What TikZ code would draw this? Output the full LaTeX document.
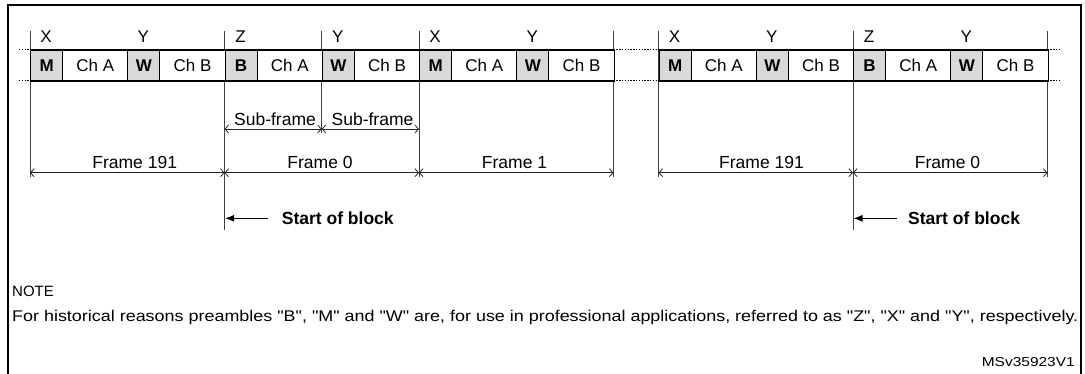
\documentclass[tikz,border=0pt]{standalone}
\usepackage{fontspec}
\setmainfont{Liberation Sans}
\newfontfamily\notefont{Liberation Sans}
\usetikzlibrary{arrows.meta}
\newcommand{\fsz}{\fontsize{17}{20}\selectfont}
\newcommand{\lsz}{\fontsize{17.5}{20}\selectfont}
\begin{document}
\begin{tikzpicture}[x=1pt,y=-1pt,
  cellbox/.style={draw, line width=1.2pt, inner sep=0pt, minimum height=31pt, anchor=west, font=\fsz},
  precell/.style={cellbox, fill=gray!30, minimum width=32pt, font=\fsz\bfseries},
  chcell/.style={cellbox, fill=white, minimum width=65.25pt},
  toplabel/.style={anchor=base, font=\fsz, inner sep=0pt},
  vline/.style={draw=black!75, line width=0.9pt},
  dimarrow/.style={draw=black!85, line width=0.8pt, {Straight Barb[length=3.5pt,width=8pt]}-{Straight Barb[length=3.5pt,width=8pt]}},
  dimlabel/.style={anchor=base, font=\lsz, inner sep=0pt},
  dotline/.style={draw, line width=1pt, dash pattern=on 1.4pt off 1.4pt},
  startarrow/.style={draw, line width=1.2pt, -{Latex[length=9pt,width=7pt]}},
  startlabel/.style={anchor=base west, font=\lsz\bfseries, inner sep=0pt}
]
\useasboundingbox (0,0) rectangle (1085,374);
% outer frame
\draw[line width=2pt] (8,374) -- (8,5) -- (1081,5) -- (1081,374);

% vertical guide lines (drawn first, behind the cells)
\foreach \x/\yb/\n in {30/177/1, 224.5/230/2, 321.75/133/3, 419/177/4, 613.5/177/5, 658.5/177/6, 853/230/7, 1047.5/177/8} {
  \coordinate (vt\n) at (\x,31);
  \coordinate (vb\n) at (\x,\yb);
  \draw[vline] (vt\n) -- (vb\n);
}

% dotted continuation lines
\coordinate (dl1) at (19,50);  \coordinate (dl2) at (30,50);
\coordinate (dl3) at (19,81);  \coordinate (dl4) at (30,81);
\coordinate (dm1) at (613.5,50); \coordinate (dm2) at (658.5,50);
\coordinate (dm3) at (613.5,81); \coordinate (dm4) at (658.5,81);
\coordinate (dr1) at (1047.5,50); \coordinate (dr2) at (1061,50);
\coordinate (dr3) at (1047.5,81); \coordinate (dr4) at (1061,81);
\draw[dotline] (dl1) -- (dl2);
\draw[dotline] (dl3) -- (dl4);
\draw[dotline] (dm1) -- (dm2);
\draw[dotline] (dm3) -- (dm4);
\draw[dotline] (dr1) -- (dr2);
\draw[dotline] (dr3) -- (dr4);

% frames
\foreach \s/\k/\f/\t in {30/1/M/X, 224.5/2/B/Z, 419/3/M/X, 658.5/4/M/X, 853/5/B/Z} {
  \node[precell] (p\k) at (\s,65.5) {\f};
  \node[chcell]  (a\k) at (\s+32,65.5) {Ch A};
  \node[precell] (w\k) at (\s+97.25,65.5) {W};
  \node[chcell]  (b\k) at (\s+129.25,65.5) {Ch B};
  \node[toplabel] (lx\k) at (\s+16,43) {\t};
  \node[toplabel] (ly\k) at (\s+113.25,43) {Y};
}

% sub-frame dimensions
\coordinate (s1) at (224.5,129);
\coordinate (s2) at (321.75,129);
\coordinate (s3) at (419,129);
\draw[dimarrow] (s1) -- (s2);
\draw[dimarrow] (s2) -- (s3);
\node[dimlabel] (sl1) at (275,125.6) {Sub-frame};
\node[dimlabel] (sl2) at (372.5,125.6) {Sub-frame};

% frame dimensions
\coordinate (f1) at (30,172.7);
\coordinate (f2) at (224.5,172.7);
\coordinate (f3) at (419,172.7);
\coordinate (f4) at (613.5,172.7);
\coordinate (f5) at (658.5,172.7);
\coordinate (f6) at (853,172.7);
\coordinate (f7) at (1047.5,172.7);
\draw[dimarrow] (f1) -- (f2);
\draw[dimarrow] (f2) -- (f3);
\draw[dimarrow] (f3) -- (f4);
\draw[dimarrow] (f5) -- (f6);
\draw[dimarrow] (f6) -- (f7);
\node[dimlabel] (fl1) at (134.7,168.3) {Frame 191};
\node[dimlabel] (fl2) at (320,168.3) {Frame 0};
\node[dimlabel] (fl3) at (514.5,168.3) {Frame 1};
\node[dimlabel] (fl4) at (761.5,168.3) {Frame 191};
\node[dimlabel] (fl5) at (947.5,168.3) {Frame 0};

% start of block
\coordinate (sa1) at (268,218.3);  \coordinate (sb1) at (225,218.3);
\coordinate (sa2) at (896.7,218.3); \coordinate (sb2) at (853.5,218.3);
\draw[startarrow] (sa1) -- (sb1);
\draw[startarrow] (sa2) -- (sb2);
\node[startlabel] (st1) at (281.7,225) {Start of block};
\node[startlabel] (st2) at (908,225) {Start of block};

% note
\node[anchor=base west, inner sep=0pt, font=\fontsize{15}{17}\selectfont] (note) at (12,296.5) {NOTE};
\node[anchor=base west, inner sep=0pt, font=\notefont\fontsize{15.5}{18}\selectfont] (notetext) at (12,321)
  {\resizebox{1066pt}{\height}{For historical reasons preambles "B", "M" and "W" are, for use in professional applications, referred to as "Z", "X" and "Y", respectively.}};
\node[anchor=base east, inner sep=0pt, font=\fontsize{13}{15}\selectfont] (code) at (1075,366)
  {\resizebox{93pt}{\height}{MSv35923V1}};
\end{tikzpicture}
\end{document}
